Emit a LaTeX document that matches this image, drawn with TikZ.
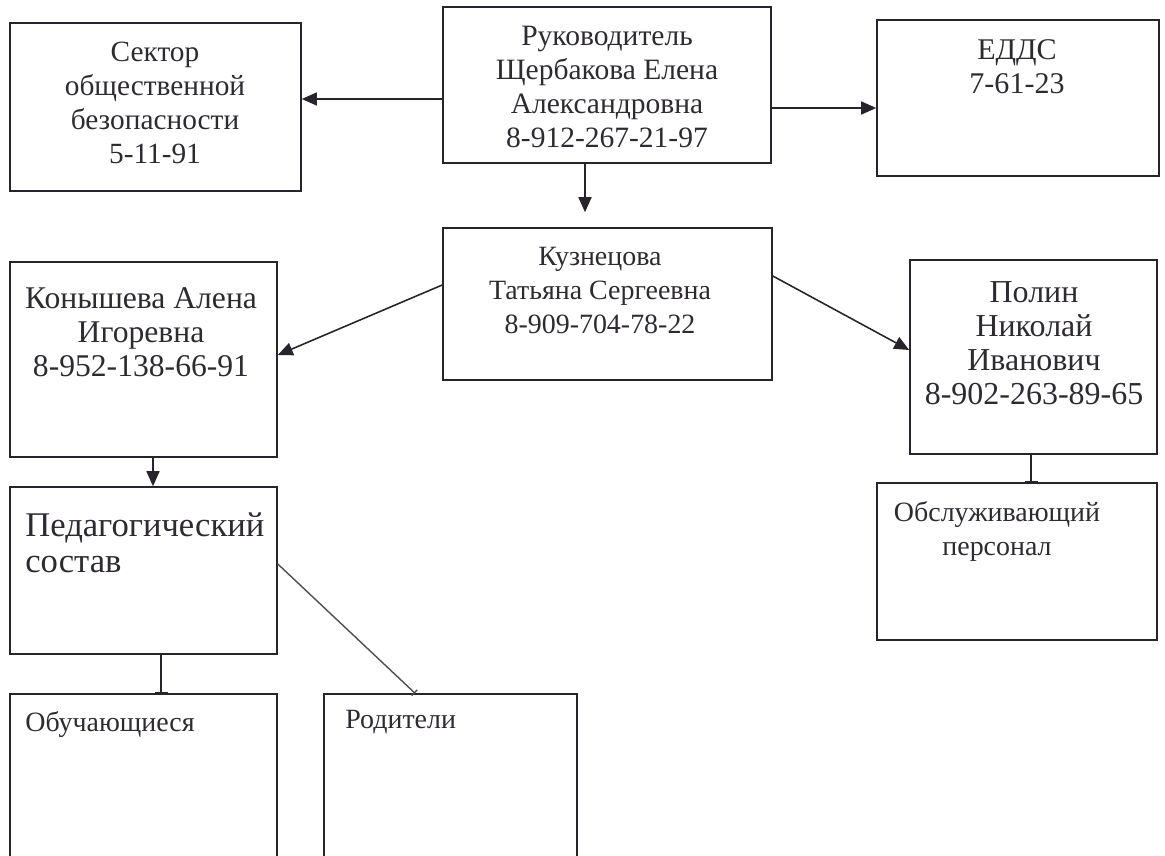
\documentclass[tikz,border=0pt]{standalone}
\usepackage{fontspec}
\setmainfont{Liberation Serif}
\usetikzlibrary{arrows.meta,positioning,calc,fit}
\definecolor{frameline}{RGB}{40,36,44}
\definecolor{slantline}{RGB}{80,78,84}
\definecolor{inkgray}{RGB}{45,42,48}
\tikzset{
  orgbox/.style={draw=frameline,line width=0.9pt,inner sep=0pt},
  orgtext/.style={anchor=north,align=center,inner sep=0pt,text=inkgray,fsize=15.9},
  leftorgtext/.style={orgtext,anchor=north west,align=left},
  fsize/.style={font=\fontsize{#1}{19.3}\selectfont},
  arr/.style={draw=frameline,line width=0.9pt,-{Triangle[length=3mm,width=2.6mm]}},
  tee/.style={draw=frameline,line width=0.9pt,-{Bar[width=2.6mm]}},
  slant/.style={draw=slantline,line width=0.8pt}
}
\newcommand{\unitbox}[3]{\node[orgbox,fit={#2 #3}] (#1) {};}

\begin{document}
\begin{tikzpicture}[x=0.02cm,y=-0.02cm]
\clip (0,0) rectangle (1165,855);
\unitbox{sector}{(10,23)}{(301,191)}
\unitbox{ruk}{(443,7)}{(771,163)}
\unitbox{edds}{(877,20)}{(1159,176)}
\unitbox{kuz}{(443,228)}{(772,380)}
\unitbox{kon}{(10,262)}{(277,457)}
\unitbox{polin}{(910,260)}{(1157,454)}
\unitbox{ped}{(10,487)}{(277,654)}
\unitbox{obsl}{(877,483)}{(1157,640)}
\unitbox{obuch}{(10,694)}{(277,880)}
\unitbox{rod}{(324,694)}{(577,880)}

\node[orgtext,fsize=16.7] (sectortxt) at (155,42) {Сектор\\общественной\\безопасности\\5-11-91};
\node[orgtext,fsize=16.8] (ruktxt) at (607,26) {Руководитель\\Щербакова Елена\\Александровна\\8-912-267-21-97};
\node[orgtext,fsize=17.1] (eddstxt) at (1017,39) {ЕДДС\\7-61-23};
\node[orgtext] (kuztxt) at (600,247) {Кузнецова\\Татьяна Сергеевна\\8-909-704-78-22};
\node[orgtext,fsize=18] (kontxt) at (141,287) {Конышева Алена\\Игоревна\\8-952-138-66-91};
\node[orgtext,fsize=18.2] (polintxt) at (1034,281) {Полин\\Николай\\Иванович\\8-902-263-89-65};
\node[leftorgtext,font=\fontsize{19.7}{20.6}\selectfont] (pedtxt) at (25,512) {Педагогический\\состав};
\node[orgtext] (obsltxt) at (997,501) {Обслуживающий\\персонал};
\node[leftorgtext] (obuchtxt) at (25,711) {Обучающиеся};
\node[leftorgtext] (rodtxt) at (345,710) {Родители};

\draw[arr] (ruk.west |- 0,99) -- (sector.east |- 0,99);
\draw[arr] (ruk.east |- 0,108) -- (edds.west |- 0,108);
\draw[arr,shorten >=0.3cm] (ruk.south -| 585,0) -- (kuz.north -| 585,0);
\draw[arr] (kuz.west |- 0,285) -- (kon.east |- 0,355);
\draw[arr] (kuz.east |- 0,276) -- (polin.west |- 0,350);
\draw[arr] (kon.south -| 153,0) -- (ped.north -| 153,0);
\draw[tee] (polin.south -| 1031,0) -- (obsl.north -| 1031,0);
\draw[tee] (ped.south -| 161,0) -- (obuch.north -| 161,0);
\draw[slant,-{Bar[width=1.6mm]}] (ped.east |- 0,564) -- (rod.north -| 415,0);
\end{tikzpicture}
\end{document}
